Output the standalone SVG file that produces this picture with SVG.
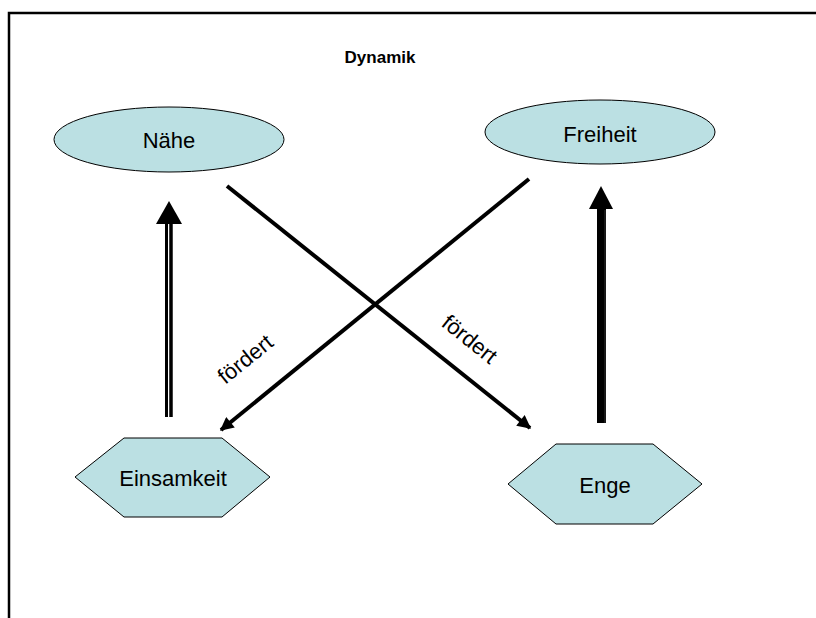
<svg xmlns="http://www.w3.org/2000/svg" width="816" height="618" viewBox="0 0 816 618">
  <style>
    .node { fill: #bbe0e3; stroke: #000; stroke-width: 1; }
    .label { font-family: "Liberation Sans", Arial, sans-serif; font-size: 22px; fill: #000; text-anchor: middle; }
    .title { font-family: "Liberation Sans", Arial, sans-serif; font-size: 17px; font-weight: bold; fill: #000; text-anchor: middle; }
    .diag { stroke: #000; stroke-width: 4; fill: none; }
    .frame { stroke: #000; stroke-width: 2.5; fill: none; }
  </style>
  <defs>
    <marker id="head" viewBox="0 0 10 10" refX="9" refY="5" markerWidth="4" markerHeight="3.4" orient="auto" markerUnits="strokeWidth">
      <path d="M0,0 L10,5 L0,10 z" fill="#000"/>
    </marker>
  </defs>

  <rect width="816" height="618" fill="#fff"/>
  <!-- slide frame -->
  <path class="frame" d="M9,618 V13 H816"/>

  <text class="title" x="380" y="63">Dynamik</text>

  <g id="naehe">
    <ellipse class="node" cx="169" cy="139.5" rx="115" ry="32.5"/>
    <text class="label" x="169" y="148">Nähe</text>
  </g>
  <g id="freiheit">
    <ellipse class="node" cx="600" cy="132" rx="115" ry="32"/>
    <text class="label" x="600" y="142">Freiheit</text>
  </g>
  <g id="einsamkeit">
    <polygon class="node" points="75,477 124,438 222,438 270,477 222,517 124,517"/>
    <text class="label" x="173" y="486">Einsamkeit</text>
  </g>
  <g id="enge">
    <polygon class="node" points="508,484 556,444 653,444 702,484 653,524 556,524"/>
    <text class="label" x="605" y="493">Enge</text>
  </g>

  <g id="connectors">
    <!-- Nähe -> Enge -->
    <line class="diag" x1="227" y1="186" x2="530" y2="428" marker-end="url(#head)"/>
    <!-- Freiheit -> Einsamkeit -->
    <line class="diag" x1="529" y1="179" x2="221" y2="430" marker-end="url(#head)"/>
    <text class="label" transform="translate(250,365) rotate(-39)">fördert</text>
    <text class="label" transform="translate(465,345) rotate(38.6)">fördert</text>

    <!-- Einsamkeit -> Nähe (double line) -->
    <line x1="166.5" y1="417" x2="166.5" y2="222" stroke="#000" stroke-width="3"/>
    <line x1="171" y1="417" x2="171" y2="222" stroke="#000" stroke-width="3.5"/>
    <polygon points="169,201 182,224 156,224" fill="#000"/>

    <!-- Enge -> Freiheit -->
    <line x1="601.5" y1="423" x2="601.5" y2="207" stroke="#000" stroke-width="9"/>
    <line x1="605" y1="423" x2="605" y2="210" stroke="#555" stroke-width="0.6"/>
    <polygon points="601,186 613,209 589,209" fill="#000"/>
  </g>
</svg>
